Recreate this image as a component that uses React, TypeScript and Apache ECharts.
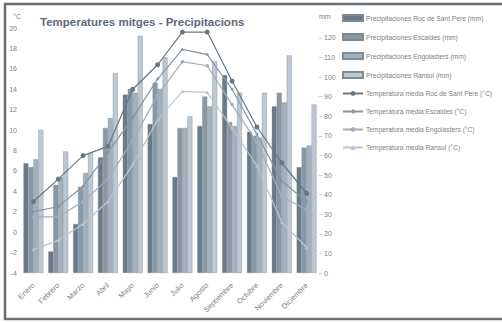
import React, { useEffect, useRef } from "react";
import * as echarts from "echarts";

const months = ["Enero", "Febrero", "Marzo", "Abril", "Mayo", "Junio", "Julio", "Agosto", "Septiembre", "Octubre", "Noviembre", "Diciembre"];

const precipRoc = [56, 11, 25, 59, 91, 76, 49, 75, 101, 72, 85, 54];
const precipEscaldes = [54, 45, 44, 74, 94, 97, 74, 90, 77, 70, 92, 64];
const precipEngolasters = [58, 49, 51, 79, 92, 94, 74, 85, 75, 69, 87, 65];
const precipRansol = [73, 62, 61, 102, 121, 110, 80, 108, 92, 92, 111, 86];

const tempRoc = [3.0, 5.2, 7.5, 8.4, 14.0, 16.4, 19.6, 19.6, 14.8, 10.3, 6.8, 3.8];
const tempEscaldes = [2.0, 2.5, 4.5, 7.8, 11.2, 15.0, 17.9, 17.4, 14.0, 9.6, 5.0, 3.0];
const tempEngolasters = [1.5, 1.5, 3.0, 5.2, 9.0, 13.4, 16.7, 16.3, 12.5, 8.8, 3.5, 2.2];
const tempRansol = [-1.7, -0.8, 0.8, 3.0, 6.6, 11.0, 13.8, 13.7, 10.2, 6.5, 1.0, -1.5];

const barNames = [
  "Precipitaciones Roc de Sant Pere (mm)",
  "Precipitaciones Escaldes (mm)",
  "Precipitaciones Engolasters (mm)",
  "Precipitaciones Ransol (mm)",
];
const lineNames = [
  "Temperatura media Roc de Sant Pere (°C)",
  "Temperatura media Escaldes (°C)",
  "Temperatura media Engolasters (°C)",
  "Temperatura media Ransol (°C)",
];

const barColors = ["#6b7a87", "#8a98a5", "#a4b1bd", "#bdc8d2"];
const lineColors = ["#667684", "#8696a4", "#a0aebb", "#b9c5d0"];
const symbols = ["circle", "diamond", "circle", "triangle"];

export default function App() {
  const ref = useRef<HTMLDivElement>(null);
  useEffect(() => {
    if (!ref.current) return;
    const chart = echarts.init(ref.current, null, { renderer: "svg" });
    const precip = [precipRoc, precipEscaldes, precipEngolasters, precipRansol];
    const temps = [tempRoc, tempEscaldes, tempEngolasters, tempRansol];
    const font = "Liberation Sans, Arial, sans-serif";
    const grey = "#808080";
    const series: any[] = [];
    precip.forEach((d, i) => {
      series.push({
        name: barNames[i],
        type: "bar",
        yAxisIndex: 1,
        data: d,
        barGap: "0%",
        barCategoryGap: "20%",
        itemStyle: { color: barColors[i], borderColor: "#7d8b97", borderWidth: 0.4 },
        z: 2,
      });
    });
    temps.forEach((d, i) => {
      series.push({
        name: lineNames[i],
        type: "line",
        yAxisIndex: 0,
        data: d,
        symbol: symbols[i],
        symbolSize: i === 0 ? 5 : 3.5,
        lineStyle: { color: lineColors[i], width: 1.2 },
        itemStyle: { color: lineColors[i] },
        z: 5,
      });
    });
    const legendData: any[] = [
      ...barNames.map((n) => ({ name: n, icon: "rect" })),
      ...lineNames.map((n) => ({ name: n })),
    ];
    chart.setOption({
      animation: false,
      backgroundColor: "#ffffff",
      textStyle: { fontFamily: font },
      title: {
        text: "Temperatures mitges - Precipitacions",
        left: 35,
        top: 11,
        textStyle: { fontSize: 11.5, fontWeight: "bold", color: "#5d6b78", fontFamily: font },
      },
      legend: {
        orient: "vertical",
        left: 337,
        top: 9,
        itemWidth: 20,
        itemHeight: 6,
        itemGap: 11,
        textStyle: { fontSize: 6.7, color: grey, fontFamily: font, padding: [0, 0, 0, -2] },
        data: legendData,
      },
      grid: { left: 21, right: 183, top: 28, bottom: 49 },
      xAxis: {
        type: "category",
        data: months,
        axisLine: { show: false, onZero: false },
        axisTick: { show: false },
        axisLabel: { rotate: 45, fontSize: 7.5, color: grey, margin: 11, interval: 0 },
      },
      yAxis: [
        {
          type: "value",
          name: "°C",
          nameLocation: "end",
          nameGap: 8,
          nameTextStyle: { fontSize: 7, color: grey, align: "right" },
          min: -4,
          max: 20,
          interval: 2,
          axisLine: { show: false },
          axisTick: { show: false },
          splitLine: { show: false },
          axisLabel: { fontSize: 7, color: grey, margin: 4 },
        },
        {
          type: "value",
          name: "mm",
          nameLocation: "end",
          nameGap: 8,
          nameTextStyle: { fontSize: 7, color: grey, align: "left" },
          min: 0,
          max: 125,
          interval: 10,
          position: "right",
          axisLine: { show: false },
          axisTick: { show: true, length: 3, lineStyle: { color: "#c8cfd5" } },
          splitLine: { show: false },
          axisLabel: { fontSize: 7, color: grey, margin: 5, showMaxLabel: false },
        },
      ],
      graphic: [
        {
          type: "rect",
          shape: { x: 5, y: 4, width: 510, height: 315 },
          style: { fill: "none", stroke: "#6b6f73", lineWidth: 2.5 },
          silent: true,
          z: 100,
        },
      ],
      series,
    });
    return () => chart.dispose();
  }, []);
  return <div ref={ref} style={{ position: "fixed", left: 0, top: 0, width: 502, height: 322 }} />;
}
